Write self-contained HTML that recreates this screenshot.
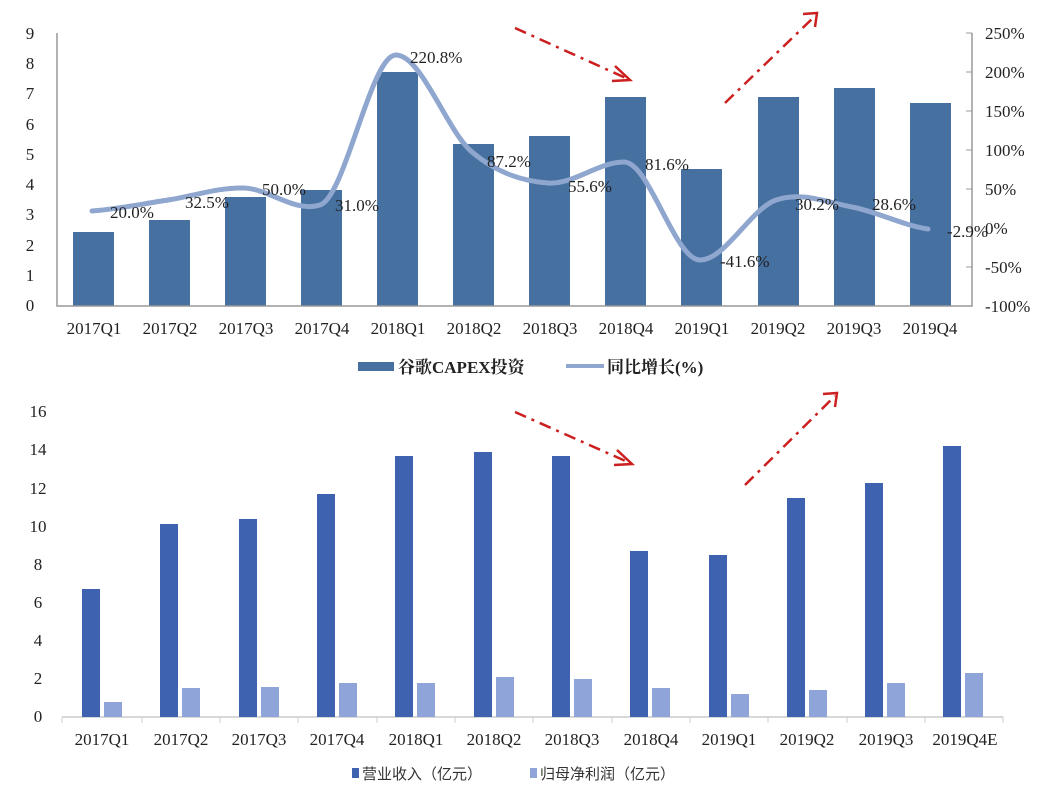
<!DOCTYPE html><html><head><meta charset="utf-8"><style>
body{margin:0;background:#fff}
svg{display:block}
.s{font-family:"Liberation Serif","Noto Serif CJK SC",serif;font-size:17px;fill:#222}
.b{font-family:"Liberation Sans","Noto Sans CJK SC",sans-serif;font-size:15px;fill:#333}
</style></head><body>
<svg width="1059" height="803" viewBox="0 0 1059 803">
<!-- top chart -->
<g fill="#45709f">
<rect x="73" y="232" width="41" height="74"/>
<rect x="149" y="220" width="41" height="86"/>
<rect x="225" y="197" width="41" height="109"/>
<rect x="301" y="190" width="41" height="116"/>
<rect x="377" y="72" width="41" height="234"/>
<rect x="453" y="144" width="41" height="162"/>
<rect x="529" y="136" width="41" height="170"/>
<rect x="605" y="97" width="41" height="209"/>
<rect x="681" y="169" width="41" height="137"/>
<rect x="758" y="97" width="41" height="209"/>
<rect x="834" y="88" width="41" height="218"/>
<rect x="910" y="103" width="41" height="203"/>
</g>
<path d="M57,33 V306 H972 V33" fill="none" stroke="#999" stroke-width="1.5"/>
<g stroke="#999"><line x1="966" y1="33" x2="972" y2="33"/><line x1="966" y1="72" x2="972" y2="72"/><line x1="966" y1="111" x2="972" y2="111"/><line x1="966" y1="150" x2="972" y2="150"/><line x1="966" y1="189" x2="972" y2="189"/><line x1="966" y1="228" x2="972" y2="228"/><line x1="966" y1="267" x2="972" y2="267"/></g>
<path d="M92,211 C117.3,209.2 142.7,203.8 168,200 C193.3,196.2 218.7,187.2 244,188 C269.3,188.8 294.7,213 320,205 C345.3,197 370.7,55 396,55 C421.3,55 446.7,130.7 472,152 C497.3,173.3 522.7,181.3 548,183 C573.3,184.7 598.7,162 624,162 C649.3,162 674.7,260 700,260 C725.3,260 750.7,208.8 776,200 C801.3,191.2 826.7,202.2 852,207 C877.3,211.8 902.7,225.3 928,229" fill="none" stroke="#8fa6cf" stroke-width="5" stroke-linecap="round"/>
<g class="s" text-anchor="middle">
<text x="30" y="39">9</text><text x="30" y="69">8</text><text x="30" y="99">7</text><text x="30" y="130">6</text><text x="30" y="160">5</text><text x="30" y="190">4</text><text x="30" y="220">3</text><text x="30" y="251">2</text><text x="30" y="281">1</text><text x="30" y="311">0</text>
<text x="94" y="334">2017Q1</text><text x="170" y="334">2017Q2</text><text x="246" y="334">2017Q3</text><text x="322" y="334">2017Q4</text><text x="398" y="334">2018Q1</text><text x="474" y="334">2018Q2</text><text x="550" y="334">2018Q3</text><text x="626" y="334">2018Q4</text><text x="702" y="334">2019Q1</text><text x="778" y="334">2019Q2</text><text x="854" y="334">2019Q3</text><text x="930" y="334">2019Q4</text>
</g>
<g class="s">
<text x="985" y="39">250%</text><text x="985" y="78">200%</text><text x="985" y="117">150%</text><text x="985" y="156">100%</text><text x="985" y="195">50%</text><text x="985" y="234">0%</text><text x="985" y="273">-50%</text><text x="985" y="312">-100%</text>
<text x="110" y="218">20.0%</text><text x="185" y="208">32.5%</text><text x="262" y="195">50.0%</text><text x="335" y="211">31.0%</text><text x="410" y="63">220.8%</text><text x="487" y="167">87.2%</text><text x="568" y="192">55.6%</text><text x="645" y="170">81.6%</text><text x="720" y="267">-41.6%</text><text x="795" y="210">30.2%</text><text x="872" y="210">28.6%</text><text x="947" y="237">-2.9%</text>
</g>
<rect x="358" y="362" width="36" height="9" fill="#45709f"/>
<text x="398" y="373" class="s" font-weight="bold">谷歌CAPEX投资</text>
<line x1="566" y1="366" x2="604" y2="366" stroke="#8fa6cf" stroke-width="4"/>
<text x="607" y="373" class="s" font-weight="bold">同比增长(%)</text>
<!-- arrows -->
<g stroke="#cc1f1f" stroke-width="2.5" fill="none" stroke-dasharray="12,6,3,6">
<line x1="515" y1="28" x2="628" y2="79"/><line x1="725" y1="103" x2="815" y2="16"/>
<line x1="515" y1="412" x2="630" y2="463"/><line x1="745" y1="485" x2="835" y2="396"/>
</g>
<g stroke="#cc1f1f" stroke-width="2.5" fill="none">
<polyline points="615,66 630,80 612,81"/><polyline points="803,14 817,13 815,27"/>
<polyline points="617,450 632,464 614,465"/><polyline points="823,394 837,393 835,407"/>
</g>
<!-- bottom chart -->
<line x1="62" y1="717" x2="1003" y2="717" stroke="#ccc" stroke-width="1.5"/>
<g stroke="#ccc"><line x1="62" y1="717" x2="62" y2="723"/><line x1="142" y1="717" x2="142" y2="723"/><line x1="220" y1="717" x2="220" y2="723"/><line x1="298" y1="717" x2="298" y2="723"/><line x1="377" y1="717" x2="377" y2="723"/><line x1="455" y1="717" x2="455" y2="723"/><line x1="533" y1="717" x2="533" y2="723"/><line x1="612" y1="717" x2="612" y2="723"/><line x1="690" y1="717" x2="690" y2="723"/><line x1="768" y1="717" x2="768" y2="723"/><line x1="847" y1="717" x2="847" y2="723"/><line x1="925" y1="717" x2="925" y2="723"/><line x1="1003" y1="717" x2="1003" y2="723"/></g>
<g fill="#3e62b0">
<rect x="82" y="589" width="18" height="128"/>
<rect x="160" y="524" width="18" height="193"/>
<rect x="239" y="519" width="18" height="198"/>
<rect x="317" y="494" width="18" height="223"/>
<rect x="395" y="456" width="18" height="261"/>
<rect x="474" y="452" width="18" height="265"/>
<rect x="552" y="456" width="18" height="261"/>
<rect x="630" y="551" width="18" height="166"/>
<rect x="709" y="555" width="18" height="162"/>
<rect x="787" y="498" width="18" height="219"/>
<rect x="865" y="483" width="18" height="234"/>
<rect x="943" y="446" width="18" height="271"/>
</g>
<g fill="#8fa5d9">
<rect x="104" y="702" width="18" height="15"/>
<rect x="182" y="688" width="18" height="29"/>
<rect x="261" y="687" width="18" height="30"/>
<rect x="339" y="683" width="18" height="34"/>
<rect x="417" y="683" width="18" height="34"/>
<rect x="496" y="677" width="18" height="40"/>
<rect x="574" y="679" width="18" height="38"/>
<rect x="652" y="688" width="18" height="29"/>
<rect x="731" y="694" width="18" height="23"/>
<rect x="809" y="690" width="18" height="27"/>
<rect x="887" y="683" width="18" height="34"/>
<rect x="965" y="673" width="18" height="44"/>
</g>
<g class="s" font-size="15" text-anchor="middle">
<text x="38" y="722">0</text><text x="38" y="684">2</text><text x="38" y="646">4</text><text x="38" y="608">6</text><text x="38" y="570">8</text><text x="38" y="532">10</text><text x="38" y="494">12</text><text x="38" y="455">14</text><text x="38" y="417">16</text>
<text x="102" y="745">2017Q1</text><text x="181" y="745">2017Q2</text><text x="259" y="745">2017Q3</text><text x="337" y="745">2017Q4</text><text x="416" y="745">2018Q1</text><text x="494" y="745">2018Q2</text><text x="572" y="745">2018Q3</text><text x="651" y="745">2018Q4</text><text x="729" y="745">2019Q1</text><text x="807" y="745">2019Q2</text><text x="886" y="745">2019Q3</text><text x="965" y="745">2019Q4E</text>
</g>
<rect x="352" y="768" width="7" height="10" fill="#3e62b0"/>
<text x="362" y="779" class="b">营业收入（亿元）</text>
<rect x="530" y="768" width="7" height="10" fill="#8fa5d9"/>
<text x="540" y="779" class="b">归母净利润（亿元）</text>
</svg>
</body></html>
